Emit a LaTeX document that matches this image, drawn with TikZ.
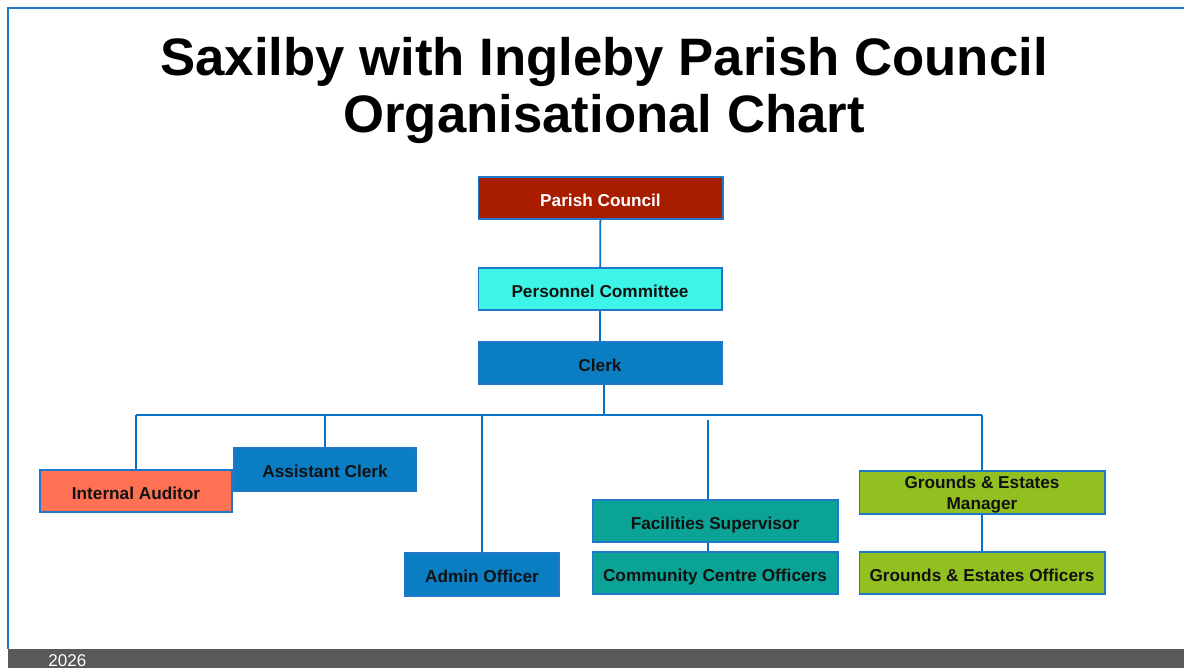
\documentclass[tikz,border=0pt]{standalone}
\usepackage{fontspec}
\setmainfont{Liberation Sans}
\usepackage{xcolor}
\usepackage{tikz}
\usetikzlibrary{calc}

\definecolor{frameblue}{HTML}{1F78C8}
\definecolor{lineblue}{HTML}{0A72C4}
\definecolor{councilred}{HTML}{A81C00}
\definecolor{committeecyan}{HTML}{3DF5E6}
\definecolor{clerkblue}{HTML}{0A7DC3}
\definecolor{auditorred}{HTML}{FF7155}
\definecolor{facilteal}{HTML}{0AA396}
\definecolor{groundsgreen}{HTML}{92C020}
\definecolor{footgray}{HTML}{595959}

\begin{document}
\begin{tikzpicture}[x=0.02cm, y=-0.02cm,
    box/.style={draw=frameblue, line width=0.6pt, inner sep=0pt, align=center,
        font=\fontsize{9.8}{12}\selectfont\bfseries, text=black!93, minimum height=0.84cm},
    onebox/.style={box, text height=0.95em, text depth=0pt},
    link/.style={draw=lineblue, line width=1pt}]
    \clip (0, 0) rectangle (1184, 668);
    \fill[white] (0, 0) rectangle (1184, 668);

    % slide frame and footer
    \draw[frameblue, line width=0.8pt] (1184, 8) -- (8, 8) -- (8, 649);
    \fill[footgray] (8, 649) rectangle (1184, 668);
    \node[anchor=base west, inner sep=0pt, text=white, font=\fontsize{9.7}{11}\selectfont] (year) at (48, 667) {2026};

    % title
    \node[anchor=base, inner sep=0pt, font=\fontsize{30}{32}\selectfont\bfseries] (title1) at (604, 76) {Saxilby with Ingleby Parish Council};
    \node[anchor=base, inner sep=0pt, font=\fontsize{30}{32}\selectfont\bfseries] (title2) at (604, 133) {Organisational Chart};

    % chart
    \node[onebox, fill=councilred, text=white, minimum width=4.9cm] (council) at (600.5, 198) {Parish Council};
    \node[onebox, fill=committeecyan, minimum width=4.88cm] (committee) at (600, 289) {Personnel Committee};
    \node[onebox, fill=clerkblue, minimum width=4.88cm] (clerk) at (600, 363) {Clerk};

    \node[onebox, fill=auditorred, minimum width=3.84cm] (auditor) at (136, 491) {Internal Auditor};
    \node[onebox, fill=clerkblue, minimum width=3.64cm, minimum height=0.86cm] (assistant) at (325, 469.5) {Assistant Clerk};
    \node[onebox, fill=clerkblue, minimum width=3.08cm, minimum height=0.86cm] (admin) at (482, 574.5) {Admin Officer};
    \node[onebox, fill=facilteal, minimum width=4.92cm] (facilities) at (715, 521) {Facilities Supervisor};
    \node[onebox, fill=facilteal, minimum width=4.92cm] (centre) at (715, 573) {Community Centre Officers};
    \node[box, fill=groundsgreen, minimum width=4.92cm, minimum height=0.86cm, text depth=0pt] (gmanager) at (982, 492.5) {Grounds \& Estates\\Manager};
    \node[onebox, fill=groundsgreen, minimum width=4.92cm] (gofficers) at (982, 573) {Grounds \& Estates Officers};

    \coordinate (bus) at (604, 415);
    \coordinate (facil) at (708, 420);

    \draw[link] (council) -- (committee);
    \draw[link] (committee) -- (clerk);
    \draw[link] (clerk.south -| bus) -- (bus);
    \draw[link] (auditor.north |- bus) -- (gmanager.north |- bus);
    \draw[link] (bus -| auditor.north) -- (auditor.north);
    \draw[link] (bus -| assistant.north) -- (assistant.north);
    \draw[link] (bus -| admin.north) -- (admin.north);
    \draw[link] (facil) -- (facil |- facilities.north);
    \draw[link] (bus -| gmanager.north) -- (gmanager.north);
    \draw[link] (facilities.south -| facil) -- (centre.north -| facil);
    \draw[link] (gmanager) -- (gofficers);
\end{tikzpicture}
\end{document}
